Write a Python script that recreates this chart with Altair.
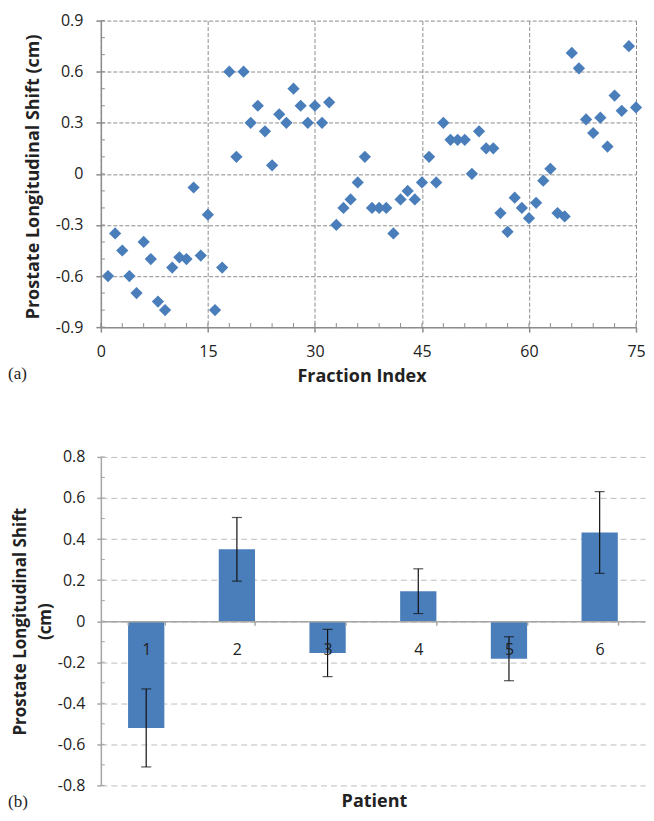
import altair as alt
import pandas as pd

# ---------------- data ----------------
fraction_index = list(range(1, 76))
long_shift = [-0.60, -0.35, -0.45, -0.60, -0.70, -0.40, -0.50, -0.75, -0.80, -0.55,
              -0.49, -0.50, -0.08, -0.48, -0.24, -0.80, -0.55, 0.60, 0.10, 0.60,
              0.30, 0.40, 0.25, 0.05, 0.35, 0.30, 0.50, 0.40, 0.30, 0.40,
              0.30, 0.42, -0.30, -0.20, -0.15, -0.05, 0.10, -0.20, -0.20, -0.20,
              -0.35, -0.15, -0.10, -0.15, -0.05, 0.10, -0.05, 0.30, 0.20, 0.20,
              0.20, 0.00, 0.25, 0.15, 0.15, -0.23, -0.34, -0.14, -0.20, -0.26,
              -0.17, -0.04, 0.03, -0.23, -0.25, 0.71, 0.62, 0.32, 0.24, 0.33,
              0.16, 0.46, 0.37, 0.75, 0.39]

patients = ["1", "2", "3", "4", "5", "6"]
patient_mean = [-0.52, 0.35, -0.155, 0.146, -0.183, 0.432]
patient_err = [0.19, 0.155, 0.115, 0.109, 0.107, 0.199]

x_major = [0, 15, 30, 45, 60, 75]
x_minor = list(range(0, 76, 3))
y_major_a = [-0.9, -0.6, -0.3, 0, 0.3, 0.6, 0.9]
y_minor_a = [round(-0.9 + 0.1 * i, 1) for i in range(19)]
y_major_b = [-0.8, -0.6, -0.4, -0.2, 0, 0.2, 0.4, 0.6, 0.8]
y_minor_b = [round(-0.8 + 0.1 * i, 1) for i in range(17)]

# ---------------- style ----------------
FONT = "Open Sans"
BLUE = "#4a7ebb"
TXT = "#222222"
GRAY_A = "#8c8c8c"
GRAY_B = "#a6a6a6"
W1, H1 = 536, 307
W2, H2 = 545, 329
LBL = "datum.value == 0 ? '0' : replace(format(datum.value, '.1f'), '\u2212', '-')"

df1 = pd.DataFrame({"fraction": fraction_index, "shift": long_shift})
df2 = pd.DataFrame({"patient": patients, "mean": patient_mean, "err": patient_err})
df2["lo"] = df2["mean"] - df2["err"]
df2["hi"] = df2["mean"] + df2["err"]

xs1 = alt.Scale(domain=[0, 75], nice=False, zero=False)
ys1 = alt.Scale(domain=[-0.9, 0.9], nice=False, zero=False)

ax_x1 = alt.Axis(
    values=x_major, title="Fraction Index", grid=True, gridColor=GRAY_A, gridDash=[4, 2], gridWidth=1,
    domainColor=GRAY_A, domainWidth=1.5, tickColor=GRAY_A, tickSize=5, tickWidth=1.5,
    labelFont=FONT, labelFontSize=16, labelColor=TXT, labelPadding=11, labelFlush=False,
    titleFont=FONT, titleFontSize=18, titleFontWeight="bold", titleColor=TXT, titlePadding=8,
    titleX=261)
ax_y1 = alt.Axis(
    values=y_major_a, labelExpr=LBL, title="Prostate Longitudinal Shift (cm)",
    grid=True, gridColor=GRAY_A, gridDash=[4, 2], gridWidth=1,
    domainColor=GRAY_A, domainWidth=1.5, tickColor=GRAY_A, tickSize=5, tickWidth=1.5,
    labelFont=FONT, labelFontSize=16, labelColor=TXT, labelPadding=13, labelFlush=False,
    titleFont=FONT, titleFontSize=18, titleFontWeight="bold", titleColor=TXT, titlePadding=13,
    titleY=156)

points = alt.Chart(df1).mark_point(shape="diamond", filled=True, size=150, color=BLUE, opacity=1).encode(
    x=alt.X("fraction:Q", scale=xs1, axis=ax_x1),
    y=alt.Y("shift:Q", scale=ys1, axis=ax_y1),
)

minor_x_a = alt.Chart(pd.DataFrame({"m": x_minor})).mark_rule(color=GRAY_A, strokeWidth=1).encode(
    x=alt.X("m:Q", scale=xs1, axis=ax_x1), y=alt.value(H1), y2=alt.value(H1 - 4))
minor_y_a = alt.Chart(pd.DataFrame({"m": y_minor_a})).mark_rule(color=GRAY_A, strokeWidth=1).encode(
    y=alt.Y("m:Q", scale=ys1, axis=ax_y1), x=alt.value(0), x2=alt.value(4))

label_a = alt.Chart(pd.DataFrame({"t": ["(a)"]})).mark_text(
    align="left", baseline="middle", font="Liberation Serif", fontSize=17, color=TXT
).encode(x=alt.value(-93), y=alt.value(354), text="t:N")

top = alt.layer(points, minor_x_a, minor_y_a, label_a).properties(width=W1, height=H1)

# ---------------- bottom chart ----------------
xb = alt.X("patient:N", sort=patients, scale=alt.Scale(paddingInner=0.6, paddingOuter=0.3),
           axis=alt.Axis(orient="bottom", offset=-H2 / 2, labelAngle=0, tickBand="extent", title=None,
                         domainColor=GRAY_B, domainWidth=1.5, tickColor=GRAY_B, tickSize=4, tickWidth=1.5,
                         labelFont=FONT, labelFontSize=16, labelColor=TXT, labelPadding=16, grid=False, zindex=1))
ysb = alt.Scale(domain=[-0.8, 0.8], nice=False, zero=False)
ax_yb = alt.Axis(
    values=y_major_b, labelExpr=LBL, title=["Prostate Longitudinal Shift", "(cm)"], titleLineHeight=25,
    grid=True, gridColor="#bdbdbd", gridDash=[6, 4], gridWidth=1,
    domainColor=GRAY_B, domainWidth=1.5, tickColor=GRAY_B, tickSize=4, tickWidth=1.5,
    labelFont=FONT, labelFontSize=16, labelColor=TXT, labelPadding=12, labelFlush=False,
    titleFont=FONT, titleFontSize=17, titleFontWeight="bold", titleColor=TXT, titlePadding=3)

bars = alt.Chart(df2).mark_bar(color=BLUE).encode(
    x=xb, y=alt.Y("mean:Q", scale=ysb, axis=ax_yb))

err_rule = alt.Chart(df2).mark_rule(color="#111111", strokeWidth=1.2).encode(
    x=xb, y=alt.Y("lo:Q", scale=ysb, axis=ax_yb), y2="hi:Q")
cap_lo = alt.Chart(df2).mark_tick(color="#111111", thickness=1.2, size=10).encode(
    x=xb, y=alt.Y("lo:Q", scale=ysb, axis=ax_yb))
cap_hi = alt.Chart(df2).mark_tick(color="#111111", thickness=1.2, size=10).encode(
    x=xb, y=alt.Y("hi:Q", scale=ysb, axis=ax_yb))

minor_y_b = alt.Chart(pd.DataFrame({"m": y_minor_b})).mark_rule(color=GRAY_B, strokeWidth=1).encode(
    y=alt.Y("m:Q", scale=ysb, axis=ax_yb), x=alt.value(0), x2=alt.value(4))

label_b = alt.Chart(pd.DataFrame({"t": ["(b)"]})).mark_text(
    align="left", baseline="middle", font="Liberation Serif", fontSize=17, color=TXT
).encode(x=alt.value(-93), y=alt.value(346), text="t:N")

patient_title = alt.Chart(pd.DataFrame({"t": ["Patient"]})).mark_text(
    align="center", baseline="middle", font=FONT, fontSize=18, fontWeight="bold", color=TXT
).encode(x=alt.value(274), y=alt.value(346), text="t:N")

bottom = alt.layer(bars, err_rule, cap_lo, cap_hi, minor_y_b, label_b, patient_title).properties(
    width=W2, height=H2)

chart = alt.vconcat(top, bottom, spacing=64).properties(
    padding={"left": 0, "top": 4, "right": 0, "bottom": 0}
).configure_view(strokeWidth=0)

chart.save("out.html", embed_options={"renderer": "svg", "actions": False})
